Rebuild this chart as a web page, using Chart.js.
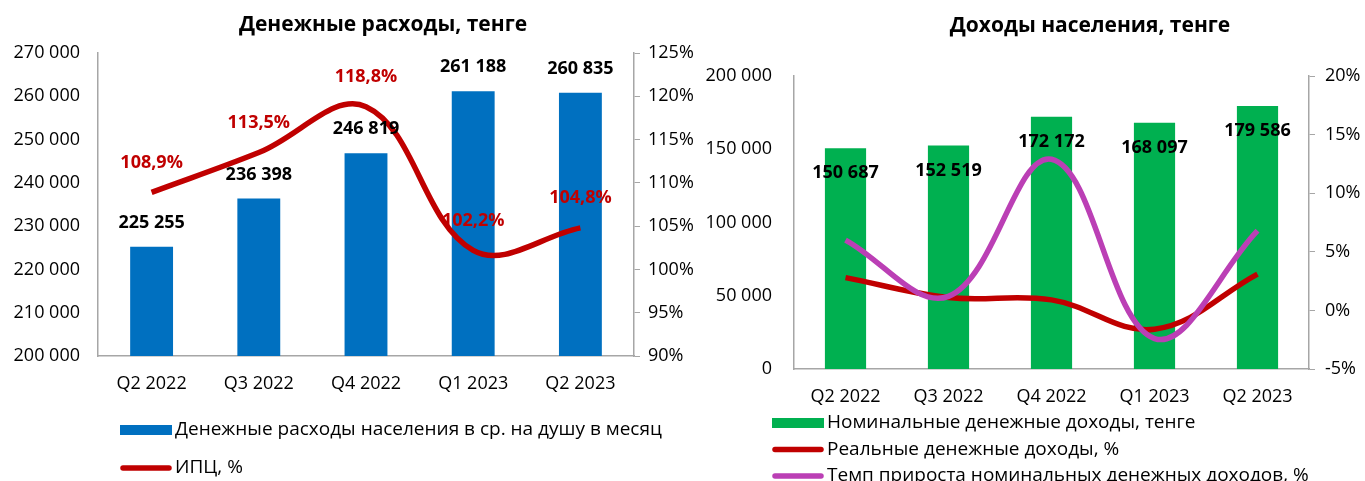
<!DOCTYPE html>
<html><head><meta charset="utf-8">
<script src="https://cdn.jsdelivr.net/npm/chart.js@4.4.1/dist/chart.umd.min.js"></script>
<style>
html,body{margin:0;padding:0;background:#fff;}
#wrap{position:relative;width:1365px;height:481px;overflow:hidden;background:#fff;}
.box{position:absolute;top:0;height:481px;}
canvas{display:block;}
</style></head><body>
<div id="wrap">
<div class="box" style="left:0;width:700px"><canvas id="c1" width="700" height="481" style="width:700px;height:481px"></canvas></div>
<div class="box" style="left:700px;width:665px"><canvas id="c2" width="665" height="481" style="width:665px;height:481px"></canvas></div>
</div>
<script>
// ---- data ----
const categories = ['Q2 2022','Q3 2022','Q4 2022','Q1 2023','Q2 2023'];
const spending = [225255,236398,246819,261188,260835];
const cpi = [108.9,113.5,118.8,102.2,104.8];
const nominalIncome = [150687,152519,172172,168097,179586];
const realIncome = [2.8,1.1,0.9,-1.6,3.1];
const nominalGrowth = [6.0,1.2,12.9,-2.4,6.8];
const spendAxisTicks = [200000,210000,220000,230000,240000,250000,260000,270000];
const cpiAxisTicks = [90,95,100,105,110,115,120,125];
const incomeAxisTicks = [0,50000,100000,150000,200000];
const pctAxisTicks = [-5,0,5,10,15,20];

const FONT = "'Open Sans', 'Noto Sans', sans-serif";
const AXIS = '#A6A6A6';
const C_BLUE = '#0070C0', C_RED = '#C00000', C_GREEN = '#00B050', C_MAG = '#BB3FB5';

const thou = v => String(Math.round(v)).replace(/\B(?=(\d{3})+(?!\d))/g, ' ');
const pct1 = v => v.toFixed(1).replace('.', ',') + '%';

Chart.defaults.font.family = FONT;
Chart.defaults.color = '#000';

const overlay = {
  id: 'overlay',
  afterDatasetsDraw(chart, args, o) {
    const ctx = chart.ctx;
    (o.labels || []).forEach(L => {
      const meta = chart.getDatasetMeta(L.ds);
      const data = chart.data.datasets[L.ds].data;
      ctx.save();
      ctx.font = 'bold ' + L.size + 'px ' + FONT;
      ctx.fillStyle = L.color;
      ctx.textAlign = 'center';
      ctx.textBaseline = 'middle';
      meta.data.forEach((el, i) => {
        ctx.fillText(L.fmt(data[i]), el.x, el.y + L.dy);
      });
      ctx.restore();
    });
  },
  afterDraw(chart, args, o) {
    const ctx = chart.ctx;
    if (o.title) {
      ctx.save();
      ctx.font = 'bold ' + o.title.size + 'px ' + FONT;
      ctx.fillStyle = '#000';
      ctx.textAlign = 'center';
      ctx.textBaseline = 'middle';
      ctx.fillText(o.title.text, o.title.x, o.title.y);
      ctx.restore();
    }
    if (o.legend) {
      const lg = o.legend;
      ctx.save();
      ctx.font = lg.size + 'px ' + FONT;
      ctx.textBaseline = 'middle';
      ctx.textAlign = 'left';
      lg.order.forEach((dsi, k) => {
        const ds = chart.data.datasets[dsi];
        const y = lg.y + k * lg.gap;
        if (ds.type === 'line') {
          ctx.strokeStyle = ds.borderColor;
          ctx.lineWidth = ds.borderWidth;
          ctx.lineCap = 'round';
          ctx.beginPath();
          ctx.moveTo(lg.x + 3, y);
          ctx.lineTo(lg.x + lg.sw - 3, y);
          ctx.stroke();
        } else {
          ctx.fillStyle = ds.backgroundColor;
          ctx.fillRect(lg.x, y - 5, lg.sw, 10);
        }
        ctx.fillStyle = '#000';
        ctx.fillText(ds.label, lg.x + lg.sw + 3, y);
      });
      ctx.restore();
    }
  }
};

function yScale(ticksArr, pos, fmt, width, showTicks, pad) {
  return {
    type: 'linear', position: pos,
    min: ticksArr[0], max: ticksArr[ticksArr.length - 1],
    afterBuildTicks: s => { s.ticks = ticksArr.map(v => ({ value: v })); },
    afterFit: s => { s.width = width; },
    grid: showTicks ? { drawOnChartArea: false, drawTicks: true, tickLength: 6, color: AXIS }
                    : { display: false, drawTicks: false },
    border: { display: true, color: AXIS, width: 1.5 },
    ticks: { font: { size: 18 }, color: '#000', padding: pad, callback: fmt }
  };
}
function xScale(height) {
  return {
    type: 'category', offset: true,
    afterFit: s => { s.height = height; },
    grid: { display: false, drawTicks: false },
    border: { display: true, color: AXIS, width: 1.5 },
    ticks: { font: { size: 18 }, color: '#000', padding: 17, maxRotation: 0 }
  };
}

new Chart(document.getElementById('c1'), {
  data: {
    labels: categories,
    datasets: [
      { type: 'bar', label: 'Денежные расходы населения в ср. на душу в месяц', data: spending,
        backgroundColor: C_BLUE, yAxisID: 'y', order: 2, barPercentage: 0.4, categoryPercentage: 1 },
      { type: 'line', label: 'ИПЦ, %', data: cpi, borderColor: C_RED, backgroundColor: C_RED,
        borderWidth: 5.5, pointRadius: 0, tension: 0.38, yAxisID: 'y1', order: 1 }
    ]
  },
  options: {
    responsive: false, animation: false, devicePixelRatio: 1,
    layout: { padding: { top: 53, left: 0, right: 0, bottom: 0 } },
    scales: {
      x: xScale(125),
      y: yScale(spendAxisTicks, 'left', thou, 98, false, 18),
      y1: yScale(cpiAxisTicks, 'right', v => v + '%', 66, true, 8)
    },
    plugins: {
      legend: { display: false }, tooltip: { enabled: false }, title: { display: false },
      overlay: {
        title: { text: 'Денежные расходы, тенге', x: 383, y: 25, size: 21 },
        labels: [
          { ds: 0, dy: -24, color: '#000', size: 18, fmt: thou },
          { ds: 1, dy: -30, color: C_RED, size: 18, fmt: pct1 }
        ],
        legend: { x: 120, y: 430, gap: 38, sw: 52, size: 19, order: [0, 1] }
      }
    }
  },
  plugins: [overlay]
});

new Chart(document.getElementById('c2'), {
  data: {
    labels: categories,
    datasets: [
      { type: 'bar', label: 'Номинальные денежные доходы, тенге', data: nominalIncome,
        backgroundColor: C_GREEN, yAxisID: 'y', order: 3, barPercentage: 0.4, categoryPercentage: 1 },
      { type: 'line', label: 'Реальные денежные доходы, %', data: realIncome, borderColor: C_RED, backgroundColor: C_RED,
        borderWidth: 5.5, pointRadius: 0, tension: 0.38, yAxisID: 'y1', order: 2 },
      { type: 'line', label: 'Темп прироста номинальных денежных доходов, %', data: nominalGrowth, borderColor: C_MAG, backgroundColor: C_MAG,
        borderWidth: 5.5, pointRadius: 0, tension: 0.38, yAxisID: 'y1', order: 1 }
    ]
  },
  options: {
    responsive: false, animation: false, devicePixelRatio: 1,
    layout: { padding: { top: 76, left: 0, right: 0, bottom: 0 } },
    scales: {
      x: xScale(112),
      y: yScale(incomeAxisTicks, 'left', thou, 94, false, 22),
      y1: yScale(pctAxisTicks, 'right', v => v + '%', 56, true, 10)
    },
    plugins: {
      legend: { display: false }, tooltip: { enabled: false }, title: { display: false },
      overlay: {
        title: { text: 'Доходы населения, тенге', x: 390, y: 26, size: 21 },
        labels: [
          { ds: 0, dy: 25, color: '#000', size: 18, fmt: thou }
        ],
        legend: { x: 72, y: 423, gap: 26.5, sw: 52, size: 19, order: [0, 1, 2] }
      }
    }
  },
  plugins: [overlay]
});
</script>
</body></html>
